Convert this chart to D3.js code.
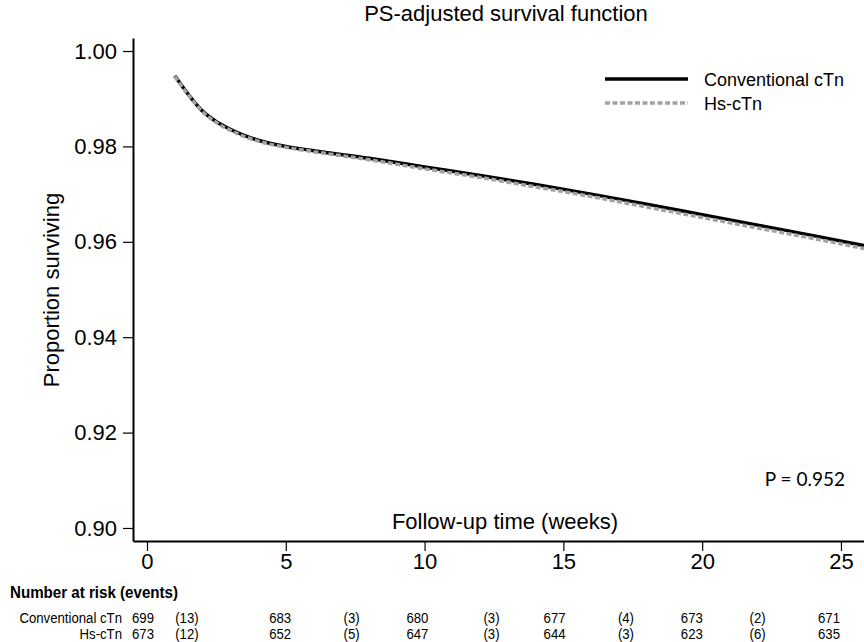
<!DOCTYPE html>
<html>
<head>
<meta charset="utf-8">
<script src="https://cdn.jsdelivr.net/npm/d3@7"></script>
<style>
  body { margin: 0; background: #fff; }
  svg { display: block; font-family: "Liberation Sans", Arial, sans-serif; }
</style>
</head>
<body>
<div id="chart"></div>
<script>
// survival curves (weeks, proportion surviving)
var weeks = [1, 1.5, 2, 2.5, 3, 3.5, 4, 5, 6, 8, 10, 12, 14, 16, 18, 20, 22, 24, 26];
var conventional = [0.9948, 0.9908, 0.9874, 0.9852, 0.9836, 0.9823, 0.9813, 0.9800, 0.9791, 0.9775,
                    0.9757, 0.9739, 0.9720, 0.9700, 0.9679, 0.9657, 0.9635, 0.9613, 0.9590];
var hsCtn = [0.9947, 0.9907, 0.9873, 0.9850, 0.9834, 0.9821, 0.9811, 0.9798, 0.9789, 0.9772,
             0.9753, 0.9735, 0.9715, 0.9695, 0.9673, 0.9651, 0.9629, 0.9607, 0.9584];

var seriesNames = ['Conventional cTn', 'Hs-cTn'];
var xTicks = [0, 5, 10, 15, 20, 25];
var yTicks = [0.90, 0.92, 0.94, 0.96, 0.98, 1.00];

// number at risk table
var riskTimes = [0, 5, 10, 15, 20, 25];
var riskConventional = [699, 683, 680, 677, 673, 671];
var riskHs = [673, 652, 647, 644, 623, 635];
var eventsConventional = [13, 3, 3, 4, 2];
var eventsHs = [12, 5, 3, 3, 6];
var pValue = 'P = 0.952';

// page constants
var width = 864;
var height = 642;

var svg = d3.select('#chart')
    .append('svg')
    .attr('width', width)
    .attr('height', height);

var x = d3.scaleLinear().domain([-0.504, 25.83]).range([133, 864]);
var y = d3.scaleLinear().domain([0.89727, 1.00273]).range([541, 38]);

// title
svg.append('text')
    .attr('x', 506)
    .attr('y', 21)
    .attr('text-anchor', 'middle')
    .style('font-size', '22px')
    .text('PS-adjusted survival function');

// curves
var line = d3.line()
    .x(d => x(d[0]))
    .y(d => y(d[1]))
    .curve(d3.curveMonotoneX);

svg.append('path')
    .datum(weeks.map((w, i) => [w, conventional[i]]))
    .attr('d', line)
    .attr('fill', 'none')
    .attr('stroke', '#000')
    .attr('stroke-width', 3.5);

svg.append('path')
    .datum(weeks.map((w, i) => [w, hsCtn[i]]))
    .attr('d', line)
    .attr('fill', 'none')
    .attr('stroke', '#a2a2a2')
    .attr('stroke-width', 3.5)
    .attr('stroke-dasharray', '5,2.5');

// axes
var xAxis = svg.append('g')
    .attr('transform', 'translate(0,541)')
    .call(d3.axisBottom(x).tickValues(xTicks).tickSize(10).tickSizeOuter(0).tickPadding(2));

var yAxis = svg.append('g')
    .attr('transform', 'translate(133,0)')
    .call(d3.axisLeft(y).tickValues(yTicks).tickFormat(d3.format('.2f')).tickSize(10).tickSizeOuter(0).tickPadding(6));

[xAxis, yAxis].forEach(function(a) {
    a.select('.domain').attr('stroke-width', 2);
    a.selectAll('.tick line').attr('stroke-width', 1.2);
    a.selectAll('.tick text')
        .style('font-size', '22px')
        .style('font-family', '"Liberation Sans", Arial, sans-serif')
        .attr('fill', '#000');
});

// axis titles
svg.append('text')
    .attr('x', 505)
    .attr('y', 529)
    .attr('text-anchor', 'middle')
    .style('font-size', '22px')
    .text('Follow-up time (weeks)');

svg.append('text')
    .attr('transform', 'translate(59,290) rotate(-90)')
    .attr('text-anchor', 'middle')
    .style('font-size', '22px')
    .text('Proportion surviving');

// legend
var legend = svg.append('g');
legend.append('line')
    .attr('x1', 605).attr('x2', 688)
    .attr('y1', 79).attr('y2', 79)
    .attr('stroke', '#000')
    .attr('stroke-width', 3.5);
legend.append('line')
    .attr('x1', 605).attr('x2', 688)
    .attr('y1', 103).attr('y2', 103)
    .attr('stroke', '#a2a2a2')
    .attr('stroke-width', 3.5)
    .attr('stroke-dasharray', '5,2.5');
legend.selectAll('text.leg')
    .data(seriesNames)
    .enter()
    .append('text')
    .attr('class', 'leg')
    .attr('x', 704)
    .attr('y', (d, i) => 86 + i * 24)
    .style('font-size', '18px')
    .text(d => d);

// p value
svg.append('text')
    .attr('x', 845)
    .attr('y', 486)
    .attr('text-anchor', 'end')
    .style('font-family', 'Lato, "Open Sans", sans-serif')
    .style('font-size', '19px')
    .text(pValue);

// number at risk table (squeezed text like the original)
var tableX = d3.scaleLinear().domain([0, 25]).range([143, 829]);
var eventCols = [1.6, 7.6, 12.7, 17.6, 22.4];
var squeeze = 0.88;

function tableText(tx, ty, str, anchor, bold) {
    svg.append('text')
        .attr('transform', 'translate(' + tx + ',' + ty + ') scale(' + (bold ? 0.89 : squeeze) + ',1)')
        .attr('text-anchor', anchor)
        .style('font-size', bold ? '17px' : '15px')
        .style('font-weight', bold ? 'bold' : 'normal')
        .text(str);
}

tableText(10, 598, 'Number at risk (events)', 'start', true);

var rows = [
    {name: 'Conventional cTn', risk: riskConventional, events: eventsConventional, y: 623},
    {name: 'Hs-cTn', risk: riskHs, events: eventsHs, y: 639}
];

rows.forEach(function(r) {
    tableText(122, r.y, r.name, 'end', false);
    r.risk.forEach(function(v, i) {
        tableText(tableX(riskTimes[i]), r.y, v, 'middle', false);
    });
    r.events.forEach(function(v, i) {
        tableText(tableX(eventCols[i]), r.y, '(' + v + ')', 'middle', false);
    });
});
</script>
</body>
</html>
